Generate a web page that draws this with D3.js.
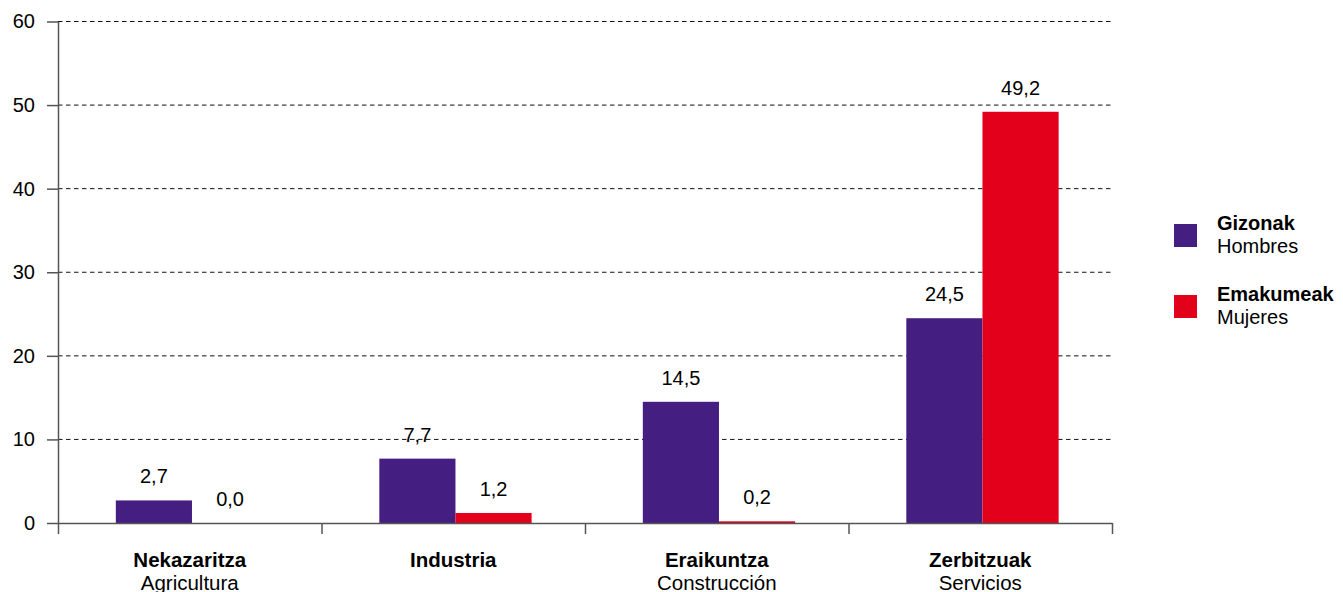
<!DOCTYPE html>
<html>
<head>
<meta charset="utf-8">
<script src="https://cdn.jsdelivr.net/npm/d3@7"></script>
<style>
  body { margin: 0; background: #fff; }
  svg { display: block; font-family: "Liberation Sans", Arial, sans-serif; }
  .axis path, .axis line { stroke: #555; stroke-width: 1.5; }
  .axis text { font-size: 20px; fill: #000; font-family: "Liberation Sans", Arial, sans-serif; }
</style>
</head>
<body>
<div id="chart"></div>
<script>
var catsEu = ["Nekazaritza", "Industria", "Eraikuntza", "Zerbitzuak"];
var catsEs = ["Agricultura", "", "Construcción", "Servicios"];
var seriesEu = ["Gizonak", "Emakumeak"];
var seriesEs = ["Hombres", "Mujeres"];
var gizonak = [2.7, 7.7, 14.5, 24.5];
var emakumeak = [0.0, 1.2, 0.2, 49.2];
var yTicks = [0, 10, 20, 30, 40, 50, 60];
var colors = ["#441e80", "#e2001a"];

var W = 1343, H = 592;
var plotL = 58, plotR = 1112, plotT = 21.5, plotB = 523;

var svg = d3.select("#chart").append("svg")
  .attr("width", W)
  .attr("height", H);

var x = d3.scaleBand().domain(catsEu).range([plotL, plotR]).padding(0);
var x1 = d3.scaleBand().domain(seriesEu).range([0, x.bandwidth()])
  .paddingInner(0).paddingOuter(0.73).align(0.52);
var y = d3.scaleLinear().domain([0, 60]).range([plotB, plotT]);

// dashed gridlines
svg.append("g")
  .selectAll("line")
  .data(yTicks.filter(function(d) { return d > 0; }))
  .enter()
  .append("line")
  .attr("x1", plotL)
  .attr("x2", plotR)
  .attr("y1", function(d) { return y(d); })
  .attr("y2", function(d) { return y(d); })
  .attr("stroke", "#111")
  .attr("stroke-width", 1)
  .attr("stroke-dasharray", "4.5,3.5");

// bars
var rows = catsEu.map(function(c, i) {
  return { cat: c, vals: [gizonak[i], emakumeak[i]] };
});

var groups = svg.selectAll(".grp")
  .data(rows)
  .enter()
  .append("g")
  .attr("transform", function(d) { return "translate(" + x(d.cat) + ",0)"; });

groups.selectAll("rect")
  .data(function(d) { return d.vals.map(function(v, j) { return { s: seriesEu[j], v: v, j: j }; }); })
  .enter()
  .append("rect")
  .attr("x", function(d) { return x1(d.s); })
  .attr("width", x1.bandwidth())
  .attr("y", function(d) { return y(d.v); })
  .attr("height", function(d) { return plotB - y(d.v); })
  .attr("fill", function(d) { return colors[d.j]; });

groups.selectAll(".lbl")
  .data(function(d) { return d.vals.map(function(v, j) { return { s: seriesEu[j], v: v }; }); })
  .enter()
  .append("text")
  .attr("x", function(d) { return x1(d.s) + x1.bandwidth() / 2; })
  .attr("y", function(d) { return y(d.v) - 17; })
  .attr("text-anchor", "middle")
  .attr("font-size", "20px")
  .text(function(d) { return d.v.toFixed(1).replace(".", ","); });

// y axis
var yAxis = d3.axisLeft(y).tickValues(yTicks).tickSizeInner(11).tickSizeOuter(0).tickPadding(12);
svg.append("g")
  .attr("class", "axis")
  .attr("transform", "translate(" + plotL + ",0)")
  .call(yAxis);

// x axis (ticks at category boundaries)
var xb = d3.scaleLinear().domain([0, catsEu.length]).range([plotL, plotR]);
var xAxis = d3.axisBottom(xb).ticks(catsEu.length).tickFormat("").tickSizeInner(11).tickSizeOuter(0);
svg.append("g")
  .attr("class", "axis")
  .attr("transform", "translate(0," + plotB + ")")
  .call(xAxis);

// category labels
var cl = svg.append("g")
  .selectAll("g")
  .data(catsEu)
  .enter()
  .append("g");

cl.append("text")
  .attr("x", function(d) { return x(d) + x.bandwidth() / 2; })
  .attr("y", 566.5)
  .attr("text-anchor", "middle")
  .attr("font-size", "20.5px")
  .attr("font-weight", "bold")
  .text(function(d) { return d; });

cl.filter(function(d, i) { return catsEs[i] !== ""; })
  .append("text")
  .attr("x", function(d) { return x(d) + x.bandwidth() / 2; })
  .attr("y", 590)
  .attr("text-anchor", "middle")
  .attr("font-size", "20.5px")
  .text(function(d) { return catsEs[catsEu.indexOf(d)]; });

// legend
var legend = svg.append("g")
  .selectAll("g")
  .data(seriesEu)
  .enter()
  .append("g")
  .attr("transform", function(d, i) { return "translate(1174," + (224 + i * 71) + ")"; });

legend.append("rect")
  .attr("width", 23)
  .attr("height", 23)
  .attr("fill", function(d, i) { return colors[i]; });

legend.append("text")
  .attr("x", 43)
  .attr("y", 5.5)
  .attr("font-size", "20px")
  .attr("font-weight", "bold")
  .text(function(d) { return d; });

legend.append("text")
  .attr("x", 43)
  .attr("y", 29)
  .attr("font-size", "20px")
  .text(function(d, i) { return seriesEs[i]; });
</script>
</body>
</html>
